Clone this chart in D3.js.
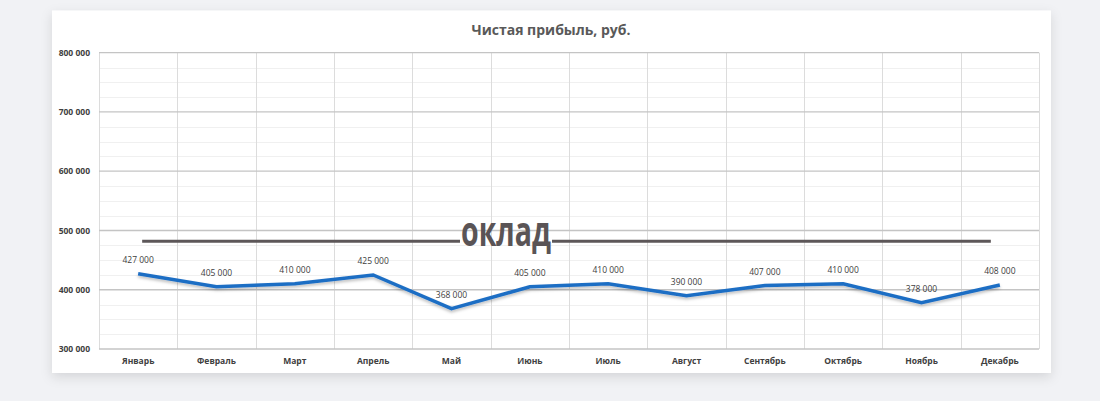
<!DOCTYPE html>
<html>
<head>
<meta charset="utf-8">
<script src="https://cdn.jsdelivr.net/npm/d3@7"></script>
<style>
  html, body { margin: 0; padding: 0; background: #f1f2f5; }
  svg { display: block; }
</style>
</head>
<body>
<div id="chart"></div>
<script>
// data
let months = ['Январь','Февраль','Март','Апрель','Май','Июнь','Июль','Август','Сентябрь','Октябрь','Ноябрь','Декабрь']
let profit = [427000, 405000, 410000, 425000, 368000, 405000, 410000, 390000, 407000, 410000, 378000, 408000]
let salary = 482000
let yTicks = [300000, 400000, 500000, 600000, 700000, 800000]
let yMinorTicks = d3.range(300000, 800001, 25000)

let width = 1100, height = 401
let margin = { top: 52.7, right: 61, bottom: 52, left: 99 }

let svg = d3.select('#chart')
  .append('svg')
  .attr('width', width)
  .attr('height', height)

let defs = svg.append('defs')
let cardShadow = defs.append('filter').attr('id', 'cardShadow')
  .attr('x', '-5%').attr('y', '-10%').attr('width', '110%').attr('height', '130%')
cardShadow.append('feDropShadow')
  .attr('dx', 0).attr('dy', 4).attr('stdDeviation', 6)
  .attr('flood-color', '#000').attr('flood-opacity', 0.12)

let lineShadow = defs.append('filter').attr('id', 'lineShadow')
  .attr('x', '-5%').attr('y', '-20%').attr('width', '110%').attr('height', '160%')
lineShadow.append('feDropShadow')
  .attr('dx', 0).attr('dy', 2).attr('stdDeviation', 1.5)
  .attr('flood-color', '#000').attr('flood-opacity', 0.25)

// the card
svg.append('rect')
  .attr('x', 52).attr('y', 10.5)
  .attr('width', 999).attr('height', 362.5)
  .attr('fill', '#fff')
  .attr('filter', 'url(#cardShadow)')

let x = d3.scaleBand()
  .domain(months)
  .range([margin.left, width - margin.right])

let y = d3.scaleLinear()
  .domain([300000, 800000])
  .range([height - margin.bottom, margin.top])

let fmt = d => d3.format(',')(d).replace(/,/g, ' ')

// minor horizontal gridlines
svg.append('g')
  .selectAll('line')
  .data(yMinorTicks.filter(d => d % 100000 !== 0))
  .enter().append('line')
    .attr('x1', x.range()[0]).attr('x2', x.range()[1])
    .attr('y1', d => Math.round(y(d)) + 0.5).attr('y2', d => Math.round(y(d)) + 0.5)
    .style('stroke', '#f0f0f0')
    .style('stroke-width', 1)

// vertical gridlines
svg.append('g')
  .selectAll('line')
  .data(months.concat(['end']))
  .enter().append('line')
    .attr('x1', (d, i) => Math.round(x.range()[0] + i * x.step()) + 0.5)
    .attr('x2', (d, i) => Math.round(x.range()[0] + i * x.step()) + 0.5)
    .attr('y1', y(800000)).attr('y2', y(300000))
    .style('stroke', '#dcdcdc')
    .style('stroke-width', 1)

// major horizontal gridlines
svg.append('g')
  .selectAll('line')
  .data(yTicks)
  .enter().append('line')
    .attr('x1', x.range()[0]).attr('x2', x.range()[1])
    .attr('y1', d => y(d)).attr('y2', d => y(d))
    .style('stroke', '#c4c4c4')
    .style('stroke-width', 1.3)

// y axis labels
let yAxis = d3.axisLeft(y)
  .tickValues(yTicks)
  .tickSize(0)
  .tickPadding(9)
  .tickFormat(fmt)

svg.append('g')
  .attr('transform', 'translate(' + margin.left + ',0)')
  .call(yAxis)
  .call(g => g.select('.domain').remove())
  .selectAll('text')
    .style('font-family', '"Open Sans", sans-serif')
    .style('font-size', '8.5px')
    .style('font-weight', 'bold')
    .style('fill', '#404040')

// x axis labels
let xAxis = d3.axisBottom(x)
  .tickSize(0)
  .tickPadding(9)

svg.append('g')
  .attr('transform', 'translate(0,' + y(300000) + ')')
  .call(xAxis)
  .call(g => g.select('.domain').remove())
  .selectAll('text')
    .style('font-family', '"Open Sans", sans-serif')
    .style('font-size', '8.5px')
    .style('font-weight', 'bold')
    .style('fill', '#404040')

// salary line with the word in the middle
let sx1 = x(months[0]) + x.bandwidth() / 2 + 4
let sx2 = x(months[11]) + x.bandwidth() / 2 - 9
let textLeft = 460, textRight = 552
let sy = y(salary)

svg.append('line')
  .attr('x1', sx1).attr('x2', textLeft)
  .attr('y1', sy).attr('y2', sy)
  .style('stroke', '#5d5759').style('stroke-width', 3)
svg.append('line')
  .attr('x1', textRight).attr('x2', sx2)
  .attr('y1', sy).attr('y2', sy)
  .style('stroke', '#5d5759').style('stroke-width', 3)

svg.append('text')
  .attr('x', textLeft + 1)
  .attr('y', sy + 4.5)
  .attr('textLength', textRight - textLeft - 2)
  .attr('lengthAdjust', 'spacingAndGlyphs')
  .text('оклад')
  .style('font-family', '"Open Sans", sans-serif')
  .style('font-size', '41px')
  .style('font-weight', 'bold')
  .style('fill', '#5a5456')

// profit line
let line = d3.line()
  .x((d, i) => x(months[i]) + x.bandwidth() / 2)
  .y(d => y(d))

svg.append('path')
  .datum(profit)
  .attr('d', line)
  .attr('fill', 'none')
  .attr('filter', 'url(#lineShadow)')
  .style('stroke', '#1f6ec4')
  .style('stroke-width', 3.5)
  .style('stroke-linejoin', 'miter')

// data labels
svg.append('g')
  .selectAll('text')
  .data(profit)
  .enter().append('text')
    .attr('x', (d, i) => x(months[i]) + x.bandwidth() / 2)
    .attr('y', d => y(d) - 10.5)
    .style('text-anchor', 'middle')
    .text(fmt)
    .style('font-family', '"Open Sans", sans-serif')
    .style('font-size', '8.5px')
    .style('fill', '#404040')

// title
svg.append('text')
  .attr('x', 551)
  .attr('y', 35)
  .style('text-anchor', 'middle')
  .text('Чистая прибыль, руб.')
  .style('font-family', '"Open Sans", sans-serif')
  .style('font-size', '14px')
  .style('font-weight', 'bold')
  .style('fill', '#595959')
</script>
</body>
</html>
